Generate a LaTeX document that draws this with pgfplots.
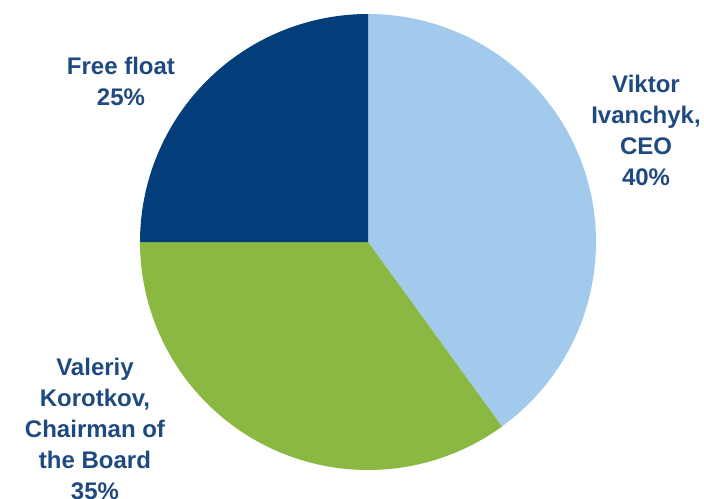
\documentclass[border=0pt]{standalone}
\usepackage{pgfplots}
\usepackage{pgfplotstable}
\pgfplotsset{compat=1.18}
\usepackage{fontspec}
\setmainfont{Liberation Sans}
\definecolor{sliceA}{HTML}{A2CAEC}
\definecolor{sliceB}{HTML}{8AB843}
\definecolor{sliceC}{HTML}{033D7A}
\definecolor{labelc}{HTML}{1F4A80}
\pgfplotstableread{
share
40
35
25
}\sharetable
\pgfplotstablegetelem{0}{share}\of\sharetable\let\sA\pgfplotsretval
\pgfplotstablegetelem{1}{share}\of\sharetable\let\sB\pgfplotsretval
\pgfplotstablegetelem{2}{share}\of\sharetable\let\sC\pgfplotsretval
\pgfmathsetmacro{\aZero}{90}
\pgfmathsetmacro{\aOne}{\aZero-3.6*\sA}
\pgfmathsetmacro{\aTwo}{\aOne-3.6*\sB}
\pgfmathsetmacro{\aThree}{\aTwo-3.6*\sC}
\begin{document}
\begin{tikzpicture}
\path[use as bounding box] (0,0) rectangle (352pt,249pt);
\clip (0,0) rectangle (352pt,249pt);
\begin{axis}[
  at={(0,0)}, anchor=south west,
  width=352pt, height=249pt, scale only axis,
  xmin=0, xmax=704, ymin=0, ymax=498,
  hide axis, clip=false,
]
\addplot[fill=sliceA, draw=none, domain=\aOne:\aZero, samples=120] ({368+228*cos(x)},{256+228*sin(x)}) -- (axis cs:368,256) -- cycle;
\addplot[fill=sliceB, draw=none, domain=\aTwo:\aOne, samples=120] ({368+228*cos(x)},{256+228*sin(x)}) -- (axis cs:368,256) -- cycle;
\addplot[fill=sliceC, draw=none, domain=\aThree:\aTwo, samples=100] ({368+228*cos(x)},{256+228*sin(x)}) -- (axis cs:368,256) -- cycle;
\begin{scope}[every node/.style={text=labelc, font=\fontsize{12}{15.5}\selectfont\bfseries, align=center}]
\node at (axis cs:121,417) {Free float\\25\%};
\node at (axis cs:646,368) {Viktor\\Ivanchyk,\\CEO\\40\%};
\node at (axis cs:95,69) {Valeriy\\Korotkov,\\Chairman of\\the Board\\35\%};
\end{scope}
\end{axis}
\end{tikzpicture}
\end{document}
